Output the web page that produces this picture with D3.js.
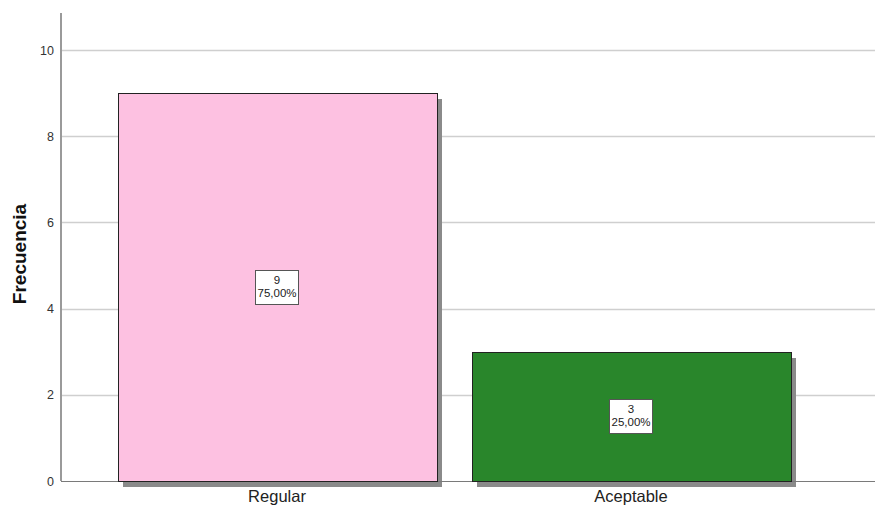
<!DOCTYPE html>
<html>
<head>
<meta charset="utf-8">
<script src="https://cdn.jsdelivr.net/npm/d3@7"></script>
<style>
    body { margin: 0; background: #fff; }
    svg { display: block; font-family: "Liberation Sans", Arial, sans-serif; }
</style>
</head>
<body>
<div id="chart"></div>
<script>
// Data
var categories = ["Regular", "Aceptable"];
var counts = [9, 3];
var percents = ["75,00%", "25,00%"];
var barColors = ["#fdc1e1", "#29862b"];
var yTicks = [0, 2, 4, 6, 8, 10];

function init() {
    var w = 875;
    var h = 510;
    var left = 61;
    var right = 875;
    var top = 13;
    var bottom = 481;

    var xScale = d3.scaleBand()
        .domain(categories)
        .range([100, 808])
        .paddingInner(0.1)
        .paddingOuter(0.05);

    var yScale = d3.scaleLinear()
        .domain([0, 10])
        .range([bottom, 50]);

    var svg = d3.select("#chart")
        .append("svg")
        .attr("width", w)
        .attr("height", h);

    // Gridlines
    svg.append("g")
        .selectAll("line")
        .data(yTicks.filter(function(d) { return d > 0; }))
        .enter()
        .append("line")
        .attr("x1", left)
        .attr("x2", right)
        .attr("y1", function(d) { return Math.round(yScale(d)) + 0.5; })
        .attr("y2", function(d) { return Math.round(yScale(d)) + 0.5; })
        .attr("stroke", "#cfcfcf")
        .attr("stroke-width", 1.3);

    var data = categories.map(function(c, i) {
        return { cat: c, n: counts[i], pct: percents[i], color: barColors[i] };
    });

    // Bar shadows
    svg.append("g")
        .selectAll("rect")
        .data(data)
        .enter()
        .append("rect")
        .attr("x", function(d) { return Math.round(xScale(d.cat)) + 5; })
        .attr("y", function(d) { return Math.round(yScale(d.n)) + 6; })
        .attr("width", Math.round(xScale.bandwidth()))
        .attr("height", function(d) { return bottom - Math.round(yScale(d.n)); })
        .attr("fill", "#8a8a8a");

    // Bottom axis line
    svg.append("line")
        .attr("x1", left)
        .attr("x2", right)
        .attr("y1", bottom + 0.5)
        .attr("y2", bottom + 0.5)
        .attr("stroke", "#7a7a7a");

    // Bars
    svg.append("g")
        .selectAll("rect")
        .data(data)
        .enter()
        .append("rect")
        .attr("x", function(d) { return Math.round(xScale(d.cat)) + 0.5; })
        .attr("y", function(d) { return Math.round(yScale(d.n)) + 0.5; })
        .attr("width", Math.round(xScale.bandwidth()))
        .attr("height", function(d) { return bottom - Math.round(yScale(d.n)); })
        .attr("fill", function(d) { return d.color; })
        .attr("stroke", "#222")
        .attr("stroke-width", 1);

    // Value labels
    var labels = svg.append("g")
        .selectAll("g")
        .data(data)
        .enter()
        .append("g")
        .attr("transform", function(d) {
            var cx = xScale(d.cat) + xScale.bandwidth() / 2;
            var cy = (yScale(d.n) + yScale(0)) / 2;
            return "translate(" + Math.round(cx) + "," + Math.round(cy) + ")";
        });

    labels.append("rect")
        .attr("x", -21.5)
        .attr("y", -16.5)
        .attr("width", 43)
        .attr("height", 34)
        .attr("fill", "#fff")
        .attr("stroke", "#555");

    labels.append("text")
        .attr("text-anchor", "middle")
        .attr("y", -3)
        .attr("font-size", "11.5px")
        .attr("fill", "#222")
        .text(function(d) { return d.n; });

    labels.append("text")
        .attr("text-anchor", "middle")
        .attr("y", 10)
        .attr("font-size", "11.5px")
        .attr("fill", "#222")
        .text(function(d) { return d.pct; });

    // Y axis
    var yAxis = d3.axisLeft(yScale)
        .tickValues(yTicks)
        .tickSize(0)
        .tickPadding(7);
    var yg = svg.append("g")
        .attr("transform", "translate(" + left + ",0)")
        .call(yAxis);
    yg.select(".domain").remove();
    yg.selectAll("text")
        .attr("font-family", "\"Liberation Sans\", Arial, sans-serif")
        .attr("font-size", "12.5px")
        .attr("fill", "#333");
    svg.append("line")
        .attr("x1", left)
        .attr("x2", left)
        .attr("y1", top)
        .attr("y2", bottom)
        .attr("stroke", "#9a9a9a")
        .attr("stroke-width", 2);

    // X axis labels
    var xAxis = d3.axisBottom(xScale).tickSize(0).tickPadding(9);
    var xg = svg.append("g")
        .attr("transform", "translate(0," + bottom + ")")
        .call(xAxis);
    xg.select(".domain").remove();
    xg.selectAll("text")
        .attr("font-family", "\"Liberation Sans\", Arial, sans-serif")
        .attr("font-size", "16.5px")
        .attr("fill", "#222");

    // Y axis title
    svg.append("text")
        .attr("transform", "translate(26,254) rotate(-90)")
        .attr("text-anchor", "middle")
        .attr("font-size", "19px")
        .attr("font-weight", "bold")
        .attr("fill", "#111")
        .text("Frecuencia");
}

window.onload = init;
</script>
</body>
</html>
